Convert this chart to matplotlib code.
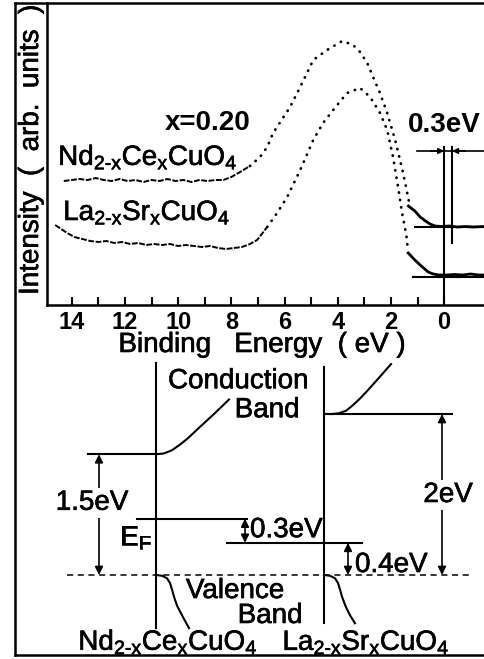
import matplotlib
matplotlib.use("Agg")
import matplotlib.pyplot as plt
from matplotlib.lines import Line2D
import matplotlib.patheffects as pe
import numpy as np

plt.rcParams['font.family'] = ['Liberation Sans', 'DejaVu Sans']
plt.rcParams['mathtext.fontset'] = 'custom'
plt.rcParams['mathtext.rm'] = 'Liberation Sans'
plt.rcParams['mathtext.it'] = 'Liberation Sans'
plt.rcParams['mathtext.bf'] = 'Liberation Sans:bold'

# ---------------- data: photoemission spectra (upper panel) ----------------
nd_ev = [14.3, 14.0, 13.7, 13.4, 13.1, 12.8, 12.5, 12.2, 11.9, 11.6, 11.3, 11.0,
         10.7, 10.4, 10.1, 9.8, 9.5, 9.2, 8.9, 8.6, 8.3, 8.0, 7.67, 7.3, 6.92,
         6.65, 6.43, 5.79, 5.41, 4.92, 4.40, 3.83, 3.42, 3.16, 2.89, 2.67, 2.41,
         2.14, 1.84, 1.54, 1.28]
nd_int = [1.24, 1.25, 1.26, 1.25, 1.27, 1.25, 1.24, 1.26, 1.24, 1.25, 1.23, 1.25,
          1.24, 1.26, 1.24, 1.25, 1.23, 1.25, 1.24, 1.25, 1.25, 1.28, 1.33, 1.39, 1.48,
          1.58, 1.72, 1.98, 2.18, 2.45, 2.55, 2.64, 2.60, 2.53, 2.42, 2.28, 2.12,
          1.92, 1.65, 1.32, 0.98]

la_ev = [14.62, 14.4, 14.17, 13.9, 13.6, 13.3, 13.0, 12.7, 12.4, 12.1, 11.8, 11.5,
         11.2, 10.9, 10.6, 10.3, 10.0, 9.7, 9.4, 9.1, 8.8, 8.5, 8.2, 7.9, 7.6,
         7.3, 7.03, 6.65, 6.28, 5.90, 5.41, 4.92, 4.55, 4.17, 3.65, 3.16, 2.78,
         2.41, 2.14, 1.92, 1.73, 1.58, 1.42, 1.36]
la_int = [0.80, 0.76, 0.72, 0.68, 0.66, 0.64, 0.63, 0.64, 0.62, 0.63, 0.61, 0.62,
          0.60, 0.61, 0.60, 0.61, 0.59, 0.60, 0.59, 0.58, 0.59, 0.57, 0.56, 0.57, 0.58,
          0.61, 0.65, 0.78, 0.92, 1.08, 1.35, 1.65, 1.82, 1.95, 2.12, 2.17, 2.08,
          1.92, 1.75, 1.48, 1.18, 0.92, 0.70, 0.55]

# high-resolution spectra near the Fermi edge
nd_edge_ev = [1.34, 1.1, 0.90, 0.7, 0.53, 0.34, 0.1, -0.2, -0.5, -0.8, -1.1, -1.5]
nd_edge_int = [0.99, 0.94, 0.88, 0.84, 0.81, 0.79, 0.785, 0.79, 0.78, 0.785, 0.78, 0.785]
la_edge_ev = [1.35, 1.1, 0.9, 0.6, 0.41, 0.2, -0.1, -0.4, -0.7, -1.0, -1.3, -1.5]
la_edge_int = [0.52, 0.45, 0.40, 0.33, 0.31, 0.30, 0.30, 0.305, 0.30, 0.31, 0.30, 0.30]

nd_base = 0.78     # reference baselines of edge spectra
la_base = 0.28
edge_shift = 0.3   # eV, shift of leading edge

x_ticks = [14, 12, 10, 8, 6, 4, 2, 0]

# ---------------- data: energy diagram (lower panel), eV ----------------
vb_top = 0.0
nd_cb = 1.5
la_cb = 2.0
nd_ef = 0.7
la_ef = 0.4

# band-edge shapes (horizontal offset in diagram units, energy offset in eV)
nd_cb_dx = [0, 8, 16, 24, 32, 44, 58, 73]
nd_cb_de = [0, 0.01, 0.05, 0.12, 0.20, 0.34, 0.50, 0.68]
la_cb_dx = [0, 8, 15, 22, 28, 35, 42, 55, 67]
la_cb_de = [0, 0.0, 0.01, 0.04, 0.10, 0.18, 0.27, 0.45, 0.62]
nd_vb_dx = [0, 6, 11, 14, 16, 18, 21, 26, 33]
nd_vb_de = [0, -0.01, -0.04, -0.10, -0.18, -0.27, -0.38, -0.50, -0.66]
la_vb_dx = [0, 6, 11, 14, 16, 18, 22, 26, 31]
la_vb_de = [0, -0.01, -0.04, -0.10, -0.18, -0.27, -0.40, -0.50, -0.60]

W, H = 484, 659
fig = plt.figure(figsize=(W / 100, H / 100), dpi=100)
heavy = [pe.withStroke(linewidth=0.45, foreground='k')]

def fx(px):
    return px / W

def fy(py):
    return 1 - py / H

# ---------------- upper panel ----------------
ax = fig.add_axes([fx(47), fy(305), fx(484) - fx(47), fy(3) - fy(305)])
ax.set_xlim(14.93, -1.5)
ax.set_ylim(0, 3.02)
for s in ['top', 'right']:
    ax.spines[s].set_visible(False)
for s in ['left', 'bottom']:
    ax.spines[s].set_linewidth(1.8)
ax.set_yticks([])
ax.set_xticks(x_ticks)
ax.set_xticks(range(0, 15), minor=True)
ax.tick_params(axis='x', which='both', direction='in', length=5.5, width=1.5,
               labelsize=17, pad=4)
for lab in ax.get_xticklabels():
    lab.set_fontweight('bold')

dense = dict(color='k', lw=1.4, linestyle=(0, (3, 0.8)))
dotted = dict(color='k', lw=2.0, linestyle=(0, (0.1, 2.6)), dash_capstyle='round')

def plot_spec(ev, it, cut):
    ev = np.asarray(ev); it = np.asarray(it)
    m = ev >= cut
    k = int(np.sum(m))
    ax.plot(ev[:k + 1], it[:k + 1], **dense)
    ax.plot(ev[k:], it[k:], **dotted)

plot_spec(nd_ev, nd_int, 7.6)
plot_spec(la_ev, la_int, 7.0)
ax.plot(nd_edge_ev, nd_edge_int, color='k', lw=2.0)
ax.plot(la_edge_ev, la_edge_int, color='k', lw=2.0)
ax.plot([1.09, -1.5], [nd_base, nd_base], color='k', lw=1.5)
ax.plot([1.17, -1.5], [la_base, la_base], color='k', lw=1.5)
ax.plot([0, 0], [0, 1.58], color='k', lw=1.5)
ax.plot([-edge_shift, -edge_shift], [0.62, 1.58], color='k', lw=1.5)
ax.plot([1.03, -1.5], [1.54, 1.54], color='k', lw=1.2)
ax.annotate('', xy=(0, 1.54), xytext=(0.5, 1.54),
            arrowprops=dict(arrowstyle='-|>', color='k', lw=1.2, mutation_scale=8,
                            shrinkA=0, shrinkB=0))
ax.annotate('', xy=(-edge_shift, 1.54), xytext=(-0.8, 1.54),
            arrowprops=dict(arrowstyle='-|>', color='k', lw=1.2, mutation_scale=8,
                            shrinkA=0, shrinkB=0))

ax.text(8.89, 1.75, 'x=0.20', fontsize=20, ha='center', va='baseline',
        fontweight='bold')
ax.text(0.0, 1.73, '0.3eV', fontsize=20, ha='center', va='baseline',
        fontweight='bold')
ax.text(14.51, 1.40, r'Nd$_{\text{2-x}}$Ce$_{\text{x}}$CuO$_{\text{4}}$', fontsize=20,
        ha='left', va='baseline', path_effects=heavy)
ax.text(14.32, 0.85, r'La$_{\text{2-x}}$Sr$_{\text{x}}$CuO$_{\text{4}}$', fontsize=20,
        ha='left', va='baseline', path_effects=heavy)

fig.text(fx(262), fy(352), 'Binding   Energy  ( eV )', fontsize=20,
         ha='center', va='baseline', path_effects=heavy)
fig.text(fx(31), fy(150), 'Intensity  (  arb.  units  )', fontsize=20,
         rotation=90, ha='center', va='center', path_effects=heavy)

# ---------------- lower panel (energy diagram) ----------------
bx = fig.add_axes([0, 0, 1, fy(340)])
bx.set_xlim(0, W)
bx.set_ylim((575 - 659) / 80.5, (575 - 340) / 80.5)
bx.axis('off')

nd_x, la_x = 156, 324
lw = 1.5
bx.plot([nd_x, nd_x], [2.63, -0.66], color='k', lw=lw)
bx.plot([la_x, la_x], [2.58, -0.60], color='k', lw=lw)

bx.plot([88, nd_x], [nd_cb, nd_cb], color='k', lw=lw)
bx.plot(nd_x + np.array(nd_cb_dx), nd_cb + np.array(nd_cb_de), color='k', lw=lw)
bx.plot([la_x, 452], [la_cb, la_cb], color='k', lw=lw)
bx.plot(la_x + np.array(la_cb_dx), la_cb + np.array(la_cb_de), color='k', lw=lw)

bx.plot(nd_x + np.array(nd_vb_dx), vb_top + np.array(nd_vb_de), color='k', lw=lw)
bx.plot(la_x + np.array(la_vb_dx), vb_top + np.array(la_vb_de), color='k', lw=lw)

bx.plot([67, 470], [vb_top, vb_top], color='k', lw=1.1, linestyle=(0, (4, 3)))
bx.plot([137, 247], [nd_ef, nd_ef], color='k', lw=lw)
bx.plot([227, 362], [la_ef, la_ef], color='k', lw=lw)

def darrow(x, y0, y1):
    bx.annotate('', xy=(x, y1), xytext=(x, y0),
                arrowprops=dict(arrowstyle='<|-|>', color='k', lw=1.2,
                                mutation_scale=12, shrinkA=0, shrinkB=0))

darrow(99, vb_top, nd_cb)
darrow(442, vb_top, la_cb)
darrow(245, la_ef, nd_ef)
darrow(348, vb_top, la_ef)

wb = dict(facecolor='white', edgecolor='none', pad=1.5)
txt = dict(fontsize=20, va='baseline', path_effects=heavy)
bx.text(92, 0.81, '1.5eV', ha='center', bbox=wb, **txt)
bx.text(448, 0.907, '2eV', ha='center', bbox=wb, **txt)
bx.text(250, 0.47, '0.3eV', ha='left', **txt)
bx.text(355, 0.037, '0.4eV', ha='left', **txt)
bx.text(136, 0.373, r'E$_{\text{F}}$', ha='center', **txt)
bx.text(238, 2.32, 'Conduction', ha='center', **txt)
bx.text(267, 1.96, 'Band', ha='center', **txt)
bx.text(235, -0.286, 'Valence', ha='center', **txt)
bx.text(270, -0.596, 'Band', ha='center', **txt)
bx.text(168, -0.93, r'Nd$_{\text{2-x}}$Ce$_{\text{x}}$CuO$_{\text{4}}$',
        ha='center', **txt)
bx.text(366, -0.93, r'La$_{\text{2-x}}$Sr$_{\text{x}}$CuO$_{\text{4}}$',
        ha='center', **txt)

# ---------------- outer frame ----------------
for xs, ys in [([15, 15], [3, 655]), ([15, 484], [3, 3]), ([15, 484], [655, 655])]:
    fig.add_artist(Line2D([fx(v) for v in xs], [fy(v) for v in ys],
                          transform=fig.transFigure, color='k', lw=1.8))

fig.savefig('out.png', dpi=100)
